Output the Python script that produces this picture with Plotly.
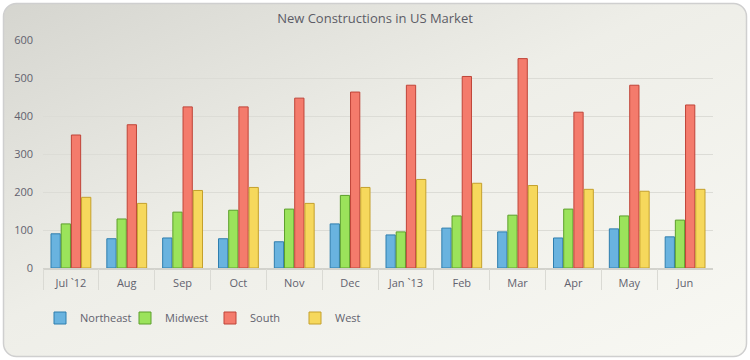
import base64
import plotly.graph_objects as go

months = ["Jul `12", "Aug", "Sep", "Oct", "Nov", "Dec", "Jan `13", "Feb", "Mar", "Apr", "May", "Jun"]
northeast = [90, 77, 79, 77, 69, 116, 87, 105, 95, 79, 103, 82]
midwest = [116, 129, 147, 152, 155, 191, 95, 137, 139, 155, 137, 126]
south = [350, 377, 424, 424, 447, 463, 481, 504, 551, 410, 481, 429]
west = [186, 170, 204, 212, 170, 212, 233, 223, 217, 207, 202, 207]
y_ticks = [0, 100, 200, 300, 400, 500, 600]

series = [
    ("Northeast", northeast, "#69b3df", "#2f7eae"),
    ("Midwest", midwest, "#9be35b", "#5d9f2c"),
    ("South", south, "#f47b6c", "#bf4438"),
    ("West", west, "#f6d85c", "#c4a02c"),
]

W, H = 750, 360
ML, MR, MT, MB = 43, 37, 40, 92
pw, ph = W - ML - MR, H - MT - MB
n = len(months)

svg = f'''<svg xmlns="http://www.w3.org/2000/svg" width="{W}" height="{H}" viewBox="0 0 {W} {H}">
<defs><linearGradient id="g" x1="0" y1="0" x2="1" y2="1">
<stop offset="0" stop-color="#d5d5cf"/><stop offset="0.45" stop-color="#eeeee8"/><stop offset="1" stop-color="#f8f8f3"/>
</linearGradient></defs>
<rect x="3.5" y="3.5" width="{W-7}" height="{H-7}" rx="13" ry="13" fill="url(#g)" stroke="#cfcfcf" stroke-width="1.5"/>
</svg>'''
src = "data:image/svg+xml;base64," + base64.b64encode(svg.encode()).decode()

fig = go.Figure()
for name, vals, fill, line in series:
    fig.add_trace(go.Bar(
        x=months, y=vals, name=name,
        marker=dict(color=fill, line=dict(color=line, width=1)),
    ))

# invisible helper trace binding the divider / grid axes
fig.add_trace(go.Scatter(x=list(range(n)), y=south, xaxis="x2", yaxis="y2", mode="markers",
                         marker=dict(opacity=0), showlegend=False, hoverinfo="skip"))

font = "Open Sans, Noto Sans, sans-serif"
fig.update_layout(
    width=W, height=H,
    margin=dict(l=ML, r=MR, t=MT, b=MB),
    paper_bgcolor="white",
    plot_bgcolor="rgba(0,0,0,0)",
    barmode="group", bargap=0.27, bargroupgap=0.09,
    title=dict(text="New Constructions in US Market", x=0.5, xref="container",
               y=1 - 18 / H, yref="container", yanchor="middle",
               font=dict(family=font, size=13, color="#5c5c66")),
    font=dict(family=font, size=11, color="#62626e"),
    xaxis=dict(
        range=[-0.5, n - 0.5],
        showgrid=False, showline=True, linecolor="#d2d2cc", linewidth=2,
        ticks="", ticklabelstandoff=4, automargin=False,
        tickfont=dict(size=11, color="#62626e"),
    ),
    xaxis2=dict(
        range=[-0.5, n - 0.5], overlaying="x", anchor="y", side="bottom",
        tickvals=[i - 0.5 for i in range(n)], ticks="outside", ticklen=21,
        tickcolor="#dadad4", tickwidth=1, showticklabels=False,
        showgrid=False, showline=False, zeroline=False, automargin=False,
    ),
    yaxis=dict(
        range=[0, 600], tickvals=y_ticks, showgrid=False, zeroline=False,
        tickfont=dict(size=11, color="#62626e"), ticks="", ticklabelstandoff=9,
        automargin=False,
    ),
    yaxis2=dict(
        range=[0, 600], overlaying="y", tickvals=y_ticks[1:-1], showgrid=True,
        gridcolor="#dcdcd6", gridwidth=1, showticklabels=False, zeroline=False,
    ),
    legend=dict(
        orientation="h", x=-3 / pw, xanchor="left", y=(268 - 318) / ph, yanchor="middle",
        entrywidth=40, entrywidthmode="pixels", bgcolor="rgba(0,0,0,0)",
        font=dict(size=11, color="#62626e"), traceorder="normal",
    ),
    images=[dict(source=src, xref="paper", yref="paper",
                 x=-ML / pw, y=1 + MT / ph, sizex=W / pw, sizey=H / ph,
                 xanchor="left", yanchor="top", sizing="stretch", layer="below")],
)

fig.write_html("out.html", config={"displayModeBar": False},
               post_script="document.body.style.margin='0';document.body.style.padding='0';")
